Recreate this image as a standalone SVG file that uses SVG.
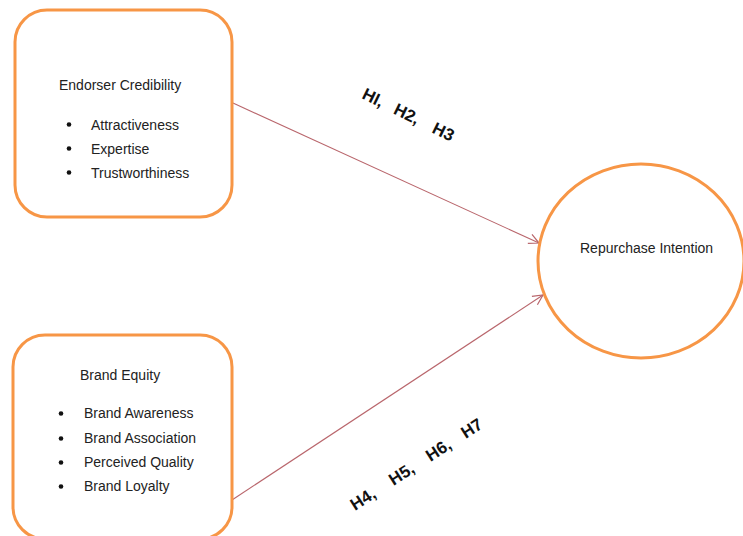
<svg xmlns="http://www.w3.org/2000/svg" width="743" height="536" viewBox="0 0 743 536">
<style>
.box{fill:#fff;stroke:#F79646;stroke-width:3}
.t{font-family:"Liberation Sans",Arial,sans-serif;font-size:14px;fill:#222}
.h{font-family:"Liberation Sans",Arial,sans-serif;font-size:17px;font-weight:bold;fill:#111}
.b{fill:#111}
.conn{stroke:#B9666C;stroke-width:1.1;fill:none}
</style>
<defs>
<marker id="arr" viewBox="0 0 12 12" refX="11" refY="6" markerWidth="12" markerHeight="12" markerUnits="userSpaceOnUse" orient="auto">
<path d="M1,1 L11,6 L1,11" fill="none" stroke="#B9666C" stroke-width="1.2"/>
</marker>
</defs>
<rect width="743" height="536" fill="#fff"/>
<g id="connectors">
<line class="conn" x1="233" y1="103" x2="539" y2="243" marker-end="url(#arr)"/>
<line class="conn" x1="232" y1="500" x2="543" y2="295" marker-end="url(#arr)"/>
</g>
<g id="endorser">
<rect class="box" x="15" y="10" width="217" height="207" rx="32"/>
<text class="t" x="59" y="90">Endorser Credibility</text>
<circle class="b" cx="69" cy="124.5" r="2.3"/>
<circle class="b" cx="69" cy="148.5" r="2.3"/>
<circle class="b" cx="69" cy="172.5" r="2.3"/>
<text class="t" x="91" y="129.5">Attractiveness</text>
<text class="t" x="91" y="153.5">Expertise</text>
<text class="t" x="91" y="177.5">Trustworthiness</text>
</g>
<g id="brand">
<rect class="box" x="13" y="335" width="219" height="204" rx="32"/>
<text class="t" x="80" y="380">Brand Equity</text>
<circle class="b" cx="61" cy="413.5" r="2.3"/>
<circle class="b" cx="61" cy="438.5" r="2.3"/>
<circle class="b" cx="61" cy="462.5" r="2.3"/>
<circle class="b" cx="61" cy="486.5" r="2.3"/>
<text class="t" x="84" y="418">Brand Awareness</text>
<text class="t" x="84" y="443">Brand Association</text>
<text class="t" x="84" y="467">Perceived Quality</text>
<text class="t" x="84" y="491">Brand Loyalty</text>
</g>
<g id="repurchase">
<ellipse class="box" cx="641" cy="261" rx="103" ry="97"/>
<text class="t" x="580" y="252.5">Repurchase Intention</text>
</g>
<g id="labels">
<text class="h" transform="translate(361,98) rotate(26)"><tspan x="0">HI,</tspan><tspan x="35">H2,</tspan><tspan x="78">H3</tspan></text>
<text class="h" transform="translate(355,511) rotate(-33)"><tspan x="0">H4,</tspan><tspan x="46">H5,</tspan><tspan x="90">H6,</tspan><tspan x="132">H7</tspan></text>
</g>
</svg>
